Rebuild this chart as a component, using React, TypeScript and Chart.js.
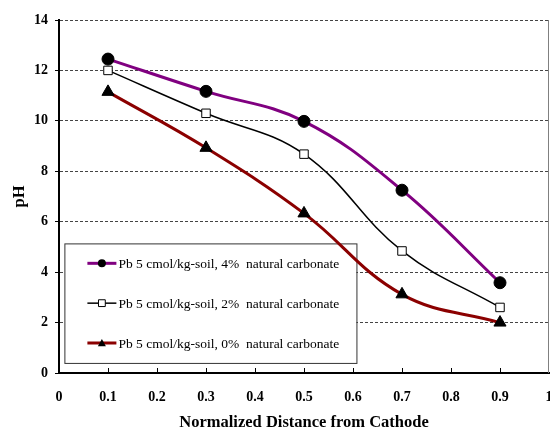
import React, { useEffect, useRef } from "react";
import { Chart, registerables } from "chart.js";

Chart.register(...registerables);

const distances = [0.1, 0.3, 0.5, 0.7, 0.9];
const ph4 = [12.45, 11.17, 9.98, 7.25, 3.58];
const ph2 = [12.0, 10.3, 8.68, 4.84, 2.6];
const ph0 = [11.15, 8.93, 6.33, 3.12, 2.0];
const seriesLabels = [
  "Pb 5 cmol/kg-soil, 4%  natural carbonate",
  "Pb 5 cmol/kg-soil, 2%  natural carbonate",
  "Pb 5 cmol/kg-soil, 0%  natural carbonate",
];
const seriesColors = ["#800080", "#000000", "#8B0000"];
const seriesWidths = [3, 1.5, 3];
const seriesShapes = ["circle", "rect", "triangle"];
const xTitle = "Normalized Distance from Cathode";
const yTitle = "pH";

const FONT = "'Liberation Serif', 'Times New Roman', serif";

function drawMarker(ctx: CanvasRenderingContext2D, shape: string, x: number, y: number, r: number) {
  ctx.save();
  ctx.lineWidth = 1;
  ctx.strokeStyle = "#000";
  ctx.beginPath();
  if (shape === "circle") {
    ctx.fillStyle = "#000";
    ctx.arc(x, y, r, 0, Math.PI * 2);
    ctx.fill();
  } else if (shape === "rect") {
    ctx.fillStyle = "#fff";
    ctx.rect(x - r * 0.85, y - r * 0.85, r * 1.7, r * 1.7);
    ctx.fill();
    ctx.stroke();
  } else {
    ctx.fillStyle = "#000";
    ctx.moveTo(x, y - r);
    ctx.lineTo(x + r, y + r * 0.8);
    ctx.lineTo(x - r, y + r * 0.8);
    ctx.closePath();
    ctx.fill();
  }
  ctx.restore();
}

const legendPlugin = {
  id: "boxLegend",
  beforeDatasetsDraw(chart: any) {
    const ctx: CanvasRenderingContext2D = chart.ctx;
    const xs = chart.scales.x;
    const ys = chart.scales.y;
    const left = xs.getPixelForValue(0.011);
    const right = xs.getPixelForValue(0.607);
    const top = ys.getPixelForValue(5.14);
    const bottom = ys.getPixelForValue(0.4);
    ctx.save();
    ctx.fillStyle = "#fff";
    ctx.fillRect(left, top, right - left, bottom - top);
    ctx.strokeStyle = "#333";
    ctx.lineWidth = 1;
    ctx.strokeRect(left + 0.5, top + 0.5, right - left, bottom - top);
    const rowH = (bottom - top) / 3;
    seriesLabels.forEach((label, i) => {
      const cy = top + rowH * (i + 0.5);
      const x0 = left + 23;
      const x1 = x0 + 29;
      ctx.strokeStyle = seriesColors[i];
      ctx.lineWidth = seriesWidths[i];
      ctx.beginPath();
      ctx.moveTo(x0, cy);
      ctx.lineTo(x1, cy);
      ctx.stroke();
      drawMarker(ctx, seriesShapes[i], (x0 + x1) / 2, cy, 4);
      ctx.fillStyle = "#000";
      ctx.font = `13.5px ${FONT}`;
      ctx.textBaseline = "middle";
      ctx.textAlign = "left";
      ctx.fillText(label, x1 + 2, cy + 1);
    });
    ctx.restore();
  },
  afterDraw(chart: any) {
    const ctx: CanvasRenderingContext2D = chart.ctx;
    const { right, top, bottom } = chart.chartArea;
    const xs = chart.scales.x;
    ctx.save();
    ctx.strokeStyle = "#808080";
    ctx.lineWidth = 1;
    ctx.beginPath();
    ctx.moveTo(right - 0.5, top);
    ctx.lineTo(right - 0.5, bottom);
    ctx.stroke();
    ctx.strokeStyle = "#000";
    ctx.lineWidth = 1;
    for (let i = 1; i <= 9; i++) {
      const px = Math.round(xs.getPixelForValue(i / 10)) + 0.5;
      ctx.beginPath();
      ctx.moveTo(px, bottom);
      ctx.lineTo(px, bottom - 5);
      ctx.stroke();
    }
    ctx.restore();
  },
};

function makeDataset(i: number, values: number[]) {
  const shape = seriesShapes[i];
  return {
    label: seriesLabels[i],
    data: distances.map((x, k) => ({ x, y: values[k] })),
    borderColor: seriesColors[i],
    borderWidth: seriesWidths[i],
    tension: 0.4,
    showLine: true,
    pointStyle: shape,
    pointRadius: shape === "circle" ? 6 : shape === "rect" ? 6 : 7,
    pointBackgroundColor: shape === "rect" ? "#fff" : "#000",
    pointBorderColor: "#000",
    pointBorderWidth: 1,
  };
}

export default function App() {
  const canvasRef = useRef<HTMLCanvasElement | null>(null);

  useEffect(() => {
    const canvas = canvasRef.current;
    if (!canvas) return;
    const chart = new Chart(canvas, {
      type: "scatter",
      data: {
        datasets: [makeDataset(0, ph4), makeDataset(1, ph2), makeDataset(2, ph0)],
      },
      options: {
        responsive: false,
        animation: false,
        layout: { autoPadding: false, padding: { top: 20, right: 1, left: 0, bottom: 0 } },
        plugins: {
          legend: { display: false },
          tooltip: { enabled: false },
        },
        scales: {
          x: {
            type: "linear",
            min: 0,
            max: 1,
            afterFit: (s: any) => {
              s.height = 62;
              s.paddingLeft = 0;
              s.paddingRight = 0;
            },
            ticks: {
              stepSize: 0.1,
              padding: 16,
              color: "#000",
              font: { family: FONT, size: 14, weight: "bold" },
              maxRotation: 0,
              autoSkip: false,
              callback: (v: any) => String(Number(Number(v).toFixed(1))),
            },
            grid: { drawOnChartArea: false, drawTicks: false },
            border: { display: true, color: "#000", width: 2 },
            title: {
              display: true,
              text: xTitle,
              color: "#000",
              font: { family: FONT, size: 16.5, weight: "bold" },
              padding: { top: 4, bottom: 2 },
            },
          },
          y: {
            type: "linear",
            min: 0,
            max: 14,
            afterFit: (s: any) => {
              s.width = 59;
              s.paddingTop = 0;
              s.paddingBottom = 0;
            },
            ticks: {
              stepSize: 2,
              padding: 7,
              color: "#000",
              font: { family: FONT, size: 14, weight: "bold" },
            },
            grid: {
              color: "#444",
              lineWidth: 1,
              drawTicks: true,
              tickLength: 4,
              tickColor: "#000",
            },
            border: { display: true, color: "#000", width: 2, dash: [3, 2] },
            title: {
              display: true,
              text: yTitle,
              color: "#000",
              font: { family: FONT, size: 16.5, weight: "bold" },
              padding: { top: 10, bottom: 0 },
            },
          },
        },
      },
      plugins: [legendPlugin],
    } as any);
    return () => chart.destroy();
  }, []);

  return (
    <div style={{ position: "fixed", left: 0, top: 0, width: 550, height: 435, background: "#fff" }}>
      <canvas ref={canvasRef} width={550} height={435} />
    </div>
  );
}
